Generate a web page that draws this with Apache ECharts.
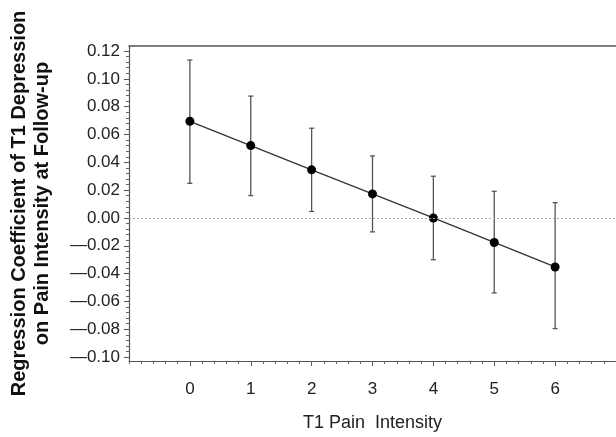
<!DOCTYPE html>
<html>
<head>
<meta charset="utf-8">
<script src="https://cdn.jsdelivr.net/npm/echarts@6/dist/echarts.min.js"></script>
<style>html,body{margin:0;padding:0;background:#fff}#c{width:616px;height:437px}</style>
</head>
<body>
<div id="c"></div>
<script>
var painLevels = [0, 1, 2, 3, 4, 5, 6];
var coefficients = [0.0695, 0.052, 0.0346, 0.0173, 0.0, -0.0176, -0.0352];
var upperCI = [0.1135, 0.0876, 0.0645, 0.0446, 0.0300, 0.0192, 0.0110];
var lowerCI = [0.0249, 0.0161, 0.0047, -0.0100, -0.0300, -0.0539, -0.0795];
var yTicks = [-0.10, -0.08, -0.06, -0.04, -0.02, 0.00, 0.02, 0.04, 0.06, 0.08, 0.10, 0.12];
var xTicks = [0, 1, 2, 3, 4, 5, 6];

var yMinor = [];
for (var i = 0; i < yTicks.length - 1; i++) {
  for (var k = 1; k < 5; k++) yMinor.push(yTicks[i] + 0.004 * k);
}
var xMinor = [];
for (var j = -1; j < 7; j++) {
  for (var m = 0; m < 5; m++) xMinor.push(j + 0.2 * m);
}

var FONT = 'Liberation Sans, Arial, sans-serif';
var chart = echarts.init(document.getElementById('c'), null, {renderer: 'canvas'});

var lineData = painLevels.map(function (x, i) { return [x, coefficients[i]]; });
var errData = painLevels.map(function (x, i) { return [x, lowerCI[i], upperCI[i]]; });

chart.setOption({
  animation: false,
  backgroundColor: '#fff',
  grid: {left: 127, right: 0, top: 46, bottom: 72, containLabel: false},
  xAxis: [{
    type: 'value', min: -1, max: 7, position: 'bottom',
    name: 'T1 Pain  Intensity', nameLocation: 'middle', nameGap: 53,
    nameTextStyle: {fontFamily: FONT, fontSize: 18, color: '#222'},
    axisLine: {show: true, onZero: false, lineStyle: {color: '#555', width: 1.2}},
    axisTick: {show: true, customValues: xTicks, length: 5, inside: false, lineStyle: {color: '#555'}},
    axisLabel: {customValues: xTicks, margin: 20, fontFamily: FONT, fontSize: 17, color: '#222'},
    splitLine: {show: false}
  }, {
    type: 'value', min: -1, max: 7, position: 'bottom',
    axisLine: {show: false, onZero: false},
    axisTick: {show: true, customValues: xMinor, length: 3, lineStyle: {color: '#666'}},
    axisLabel: {show: false},
    splitLine: {show: false}
  }, {
    type: 'value', min: -1, max: 7, position: 'top',
    axisLine: {show: true, onZero: false, lineStyle: {color: '#555', width: 1.6}},
    axisTick: {show: false}, axisLabel: {show: false}, splitLine: {show: false}
  }],
  yAxis: [{
    type: 'value', min: -0.1028, max: 0.1236, position: 'left',
    name: 'Regression Coefficient of T1 Depression\non Pain Intensity at Follow-up',
    nameLocation: 'middle', nameGap: 75,
    nameTextStyle: {fontFamily: FONT, fontSize: 20, fontWeight: 'bold', color: '#111', lineHeight: 23},
    axisLine: {show: true, onZero: false, lineStyle: {color: '#555', width: 1.2}},
    axisTick: {show: true, customValues: yTicks, length: 5, lineStyle: {color: '#555'}},
    axisLabel: {
      customValues: yTicks, margin: 9, fontFamily: FONT, fontSize: 17, color: '#222',
      formatter: function (v) {
        var s = Math.abs(v).toFixed(2);
        return (v < -1e-9 ? '\u2014' : '') + s;
      }
    },
    splitLine: {show: false}
  }, {
    type: 'value', min: -0.1028, max: 0.1236, position: 'left',
    axisLine: {show: false, onZero: false},
    axisTick: {show: true, customValues: yMinor, length: 3, lineStyle: {color: '#666'}},
    axisLabel: {show: false},
    splitLine: {show: false}
  }],
  series: [{
    type: 'custom',
    xAxisIndex: 0, yAxisIndex: 0,
    data: errData,
    z: 2,
    renderItem: function (params, api) {
      var x = api.value(0);
      var lo = api.coord([x, api.value(1)]);
      var hi = api.coord([x, api.value(2)]);
      var cap = 2.5;
      var st = {stroke: '#555', lineWidth: 1.3};
      return {
        type: 'group',
        children: [
          {type: 'line', shape: {x1: hi[0], y1: hi[1], x2: lo[0], y2: lo[1]}, style: st},
          {type: 'line', shape: {x1: hi[0] - cap, y1: hi[1], x2: hi[0] + cap, y2: hi[1]}, style: st},
          {type: 'line', shape: {x1: lo[0] - cap, y1: lo[1], x2: lo[0] + cap, y2: lo[1]}, style: st}
        ]
      };
    }
  }, {
    type: 'line',
    xAxisIndex: 0, yAxisIndex: 0,
    data: lineData,
    z: 3,
    symbol: 'circle', symbolSize: 9,
    itemStyle: {color: '#000'},
    lineStyle: {color: '#333', width: 1.3},
    markLine: {
      silent: true, symbol: 'none', label: {show: false},
      lineStyle: {color: '#aaa', type: [2, 2], width: 1},
      data: [{yAxis: 0}]
    }
  }]
});
</script>
</body>
</html>
